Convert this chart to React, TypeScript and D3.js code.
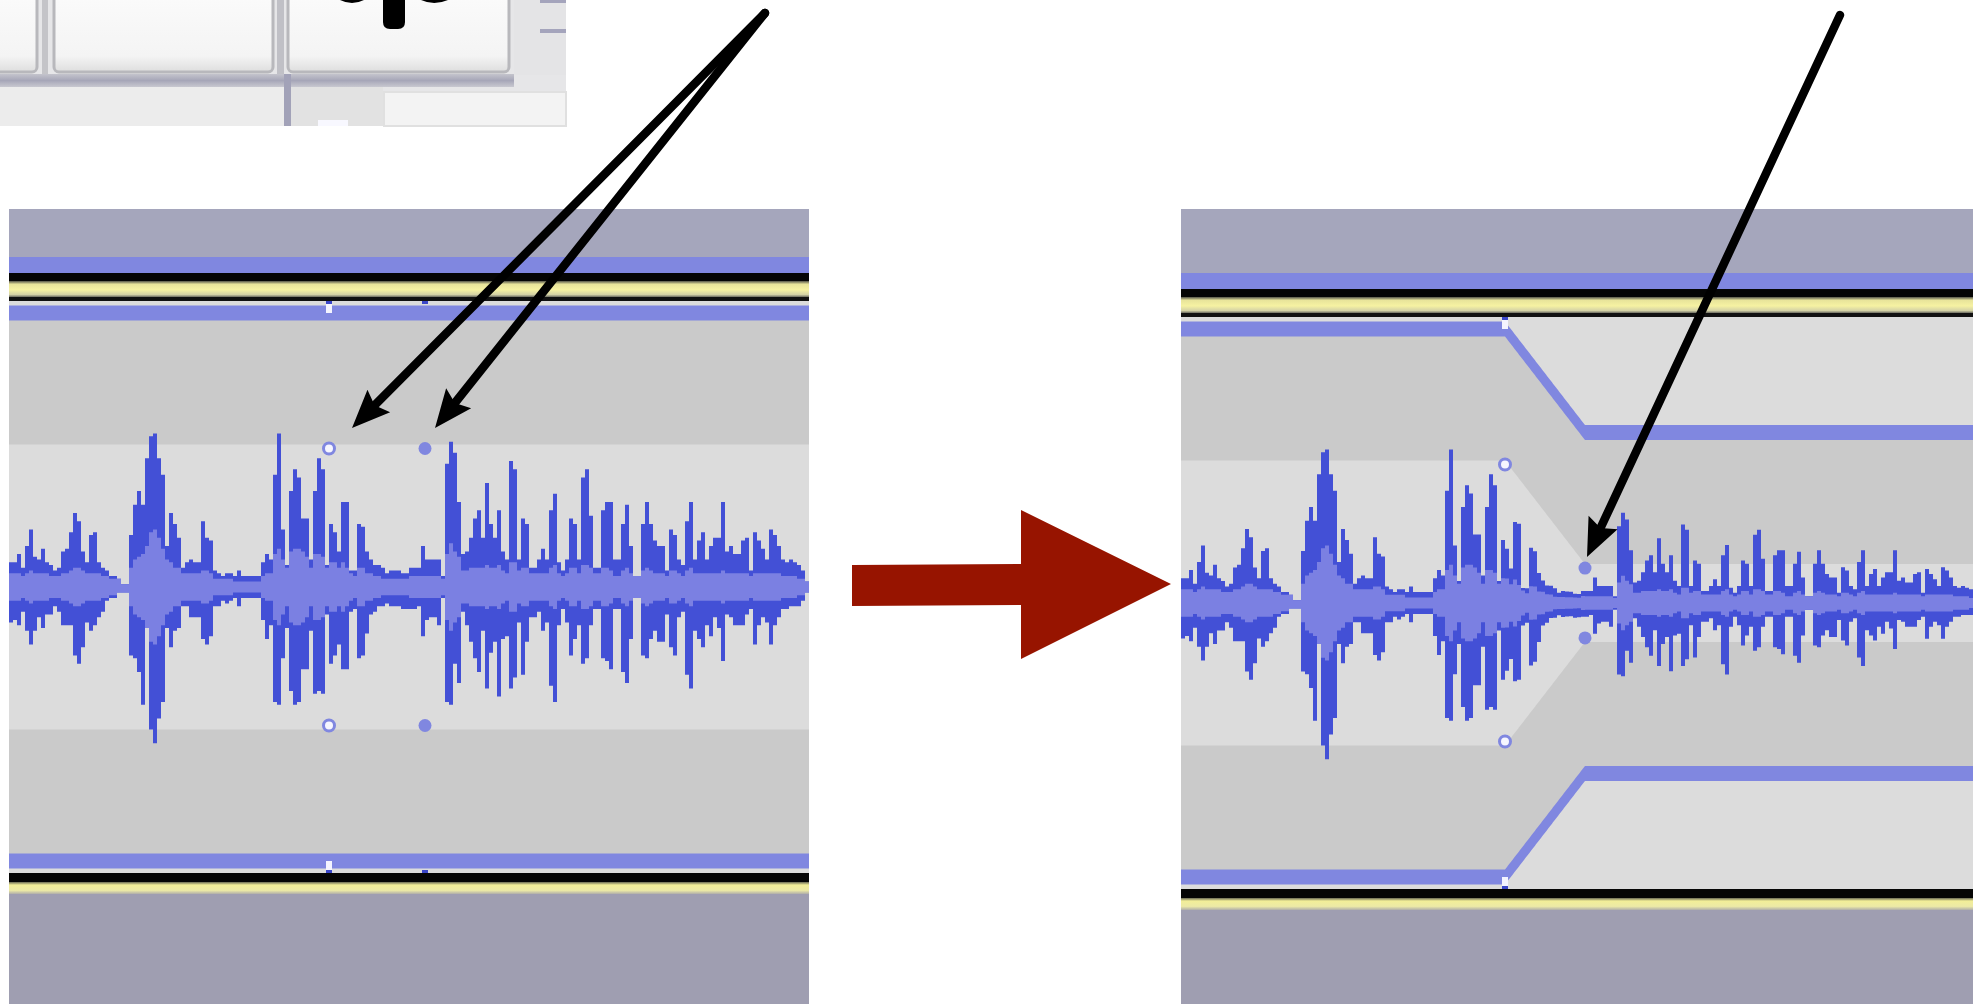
import React from 'react';
import * as d3 from 'd3';

const W = 1973;
const H = 1004;

// Waveform peaks per display column, in % of full scale (positive peak)
const waveMax = [
  9, 9, 12, 7, 15, 21, 11, 10, 14, 9, 8, 6, 7, 13, 14, 20, 27, 24, 13, 9,
  19, 20, 9, 7, 6, 4, 4, 3, 1, 1, 19, 30, 35, 30, 47, 55, 56, 47, 41, 15,
  27, 23, 18, 7, 9, 10, 9, 9, 24, 18,
  17, 6, 5, 4, 5, 5, 4, 6, 4, 4, 4, 4, 4, 9, 12, 10, 41, 56, 21, 8,
  35, 43, 40, 25, 25, 10, 35, 47, 43, 8, 23, 20, 13, 31, 31, 6, 6, 23, 22, 13,
  10, 8, 8, 7, 5, 6, 6, 6, 5, 5,
  7, 7, 7, 15, 10, 10, 10, 10, 4, 45, 53, 49, 31, 12, 13, 18, 25, 28, 18, 38,
  23, 18, 28, 13, 10, 46, 43, 10, 25, 23, 7, 7, 10, 14, 10, 28, 34, 9, 6, 10,
  25, 23, 10, 40, 43, 26, 7, 7, 28, 31,
  31, 10, 10, 23, 30, 15, 4, 4, 23, 31, 23, 17, 15, 15, 6, 21, 19, 10, 8, 24,
  31, 10, 17, 20, 10, 15, 18, 18, 31, 13, 15, 12, 12, 17, 18, 6, 20, 17, 14, 10,
  21, 19, 15, 10, 9, 10, 9, 8, 6, 2,
];

// Negative peak magnitude per column, in % of full scale
const waveMin = [
  13, 12, 14, 9, 16, 21, 16, 11, 15, 10, 10, 7, 9, 14, 14, 14, 25, 28, 22, 13,
  16, 14, 11, 9, 5, 4, 4, 2, 2, 2, 25, 26, 31, 43, 15, 52, 57, 48, 42, 15,
  22, 16, 15, 7, 7, 11, 11, 11, 19, 21,
  18, 7, 7, 5, 6, 5, 4, 7, 4, 4, 4, 4, 4, 12, 19, 14, 42, 43, 26, 15,
  38, 43, 42, 30, 30, 16, 39, 38, 39, 10, 28, 25, 21, 30, 30, 9, 8, 26, 25, 17,
  10, 9, 7, 7, 6, 7, 7, 7, 8, 8,
  8, 8, 7, 18, 12, 11, 11, 14, 4, 42, 43, 28, 35, 9, 14, 20, 26, 31, 16, 37,
  24, 20, 40, 19, 18, 37, 33, 13, 32, 20, 11, 11, 9, 16, 13, 36, 42, 14, 8, 13,
  25, 19, 14, 28, 26, 14, 8, 8, 26, 27,
  30, 8, 8, 31, 35, 19, 4, 4, 25, 26, 19, 16, 20, 20, 10, 22, 25, 11, 9, 32,
  37, 16, 19, 22, 14, 18, 11, 15, 27, 10, 11, 14, 14, 14, 10, 8, 21, 14, 11, 13,
  21, 14, 11, 8, 8, 7, 7, 7, 5, 2,
];

// RMS level per column, in % of full scale
const waveRms = [
  5, 5, 5, 4, 5, 6, 5, 5, 5, 5, 4, 4, 4, 5, 5, 6, 7, 7, 6, 5,
  5, 5, 5, 4, 4, 3, 3, 3, 2, 2, 7, 10, 11, 12, 15, 20, 21, 18, 14, 10,
  9, 7, 7, 5, 5, 5, 5, 5, 6, 6,
  5, 3, 3, 3, 3, 3, 2, 2, 2, 2, 2, 2, 2, 4, 5, 5, 12, 14, 10, 7,
  13, 14, 14, 13, 11, 7, 12, 12, 11, 7, 9, 9, 7, 9, 7, 5, 4, 7, 7, 5,
  5, 4, 4, 3, 3, 3, 3, 3, 3, 3,
  4, 4, 4, 4, 4, 4, 4, 4, 3, 12, 16, 13, 11, 6, 6, 7, 7, 7, 7, 8,
  7, 7, 8, 6, 5, 9, 9, 6, 7, 7, 5, 5, 5, 5, 5, 7, 8, 5, 4, 5,
  7, 7, 5, 8, 8, 7, 5, 5, 7, 7,
  6, 4, 4, 6, 7, 5, 4, 4, 6, 7, 6, 5, 5, 5, 4, 6, 6, 5, 4, 6,
  7, 5, 5, 5, 5, 5, 5, 5, 6, 5, 5, 5, 5, 5, 5, 4, 5, 5, 5, 5,
  5, 5, 5, 4, 4, 4, 4, 3, 3, 2,
];

// Envelope control points (time in display columns, gain)
const envBeforeTimes = [0, 80, 104, 200];
const envBeforeGains = [1, 1, 1, 1];
const envAfterTimes = [0, 81, 101, 200];
const envAfterGains = [1, 1, 0.622, 0.622];
// handles: [time, filled?]
const handlesBefore: [number, boolean][] = [[80, false], [104, true]];
const handlesAfter: [number, boolean][] = [[81, false], [101, true]];

const COLS = waveMax.length;
const INNER_OFFSET = 48; // % between envelope line and inner light band edge

const C = {
  waveDark: '#4350d6',
  waveRms: '#7b80e2',
  env: '#8087e0',
  gray: '#cacaca',
  light: '#dcdcdc',
  headTop: '#a5a6bc',
  headBottom: '#9f9eb1',
  red: '#971400',
};

type PanelProps = {
  id: string;
  x0: number;
  trackTop: number;
  times: number[];
  gains: number[];
  handles: [number, boolean][];
};

function Panel({ id, x0, trackTop, times, gains, handles }: PanelProps) {
  const width = COLS * 4;
  const half = 286;
  const center = trackTop + half;
  const trackBottom = trackTop + 2 * half;
  const xs = d3.scaleLinear().domain([0, COLS]).range([x0, x0 + width]);
  const ys = d3.scaleLinear().domain([-100, 100]).range([center + 274, center - 274]);
  const gain = d3.scaleLinear().domain(times).range(gains).clamp(true);
  const samples = d3.range(0, COLS + 0.001, 0.25);

  const topGray = d3
    .area<number>()
    .x((t) => xs(t))
    .y0((t) => ys(gain(t) * 100))
    .y1((t) => ys(gain(t) * 100 - INNER_OFFSET))(samples);
  const botGray = d3
    .area<number>()
    .x((t) => xs(t))
    .y0((t) => ys(-gain(t) * 100))
    .y1((t) => ys(-(gain(t) * 100 - INNER_OFFSET)))(samples);
  const envTop = d3
    .area<number>()
    .x((t) => xs(t))
    .y0((t) => ys(gain(t) * 100) - 7.5)
    .y1((t) => ys(gain(t) * 100) + 7.5)(samples);
  const envBot = d3
    .area<number>()
    .x((t) => xs(t))
    .y0((t) => ys(-gain(t) * 100) - 7.5)
    .y1((t) => ys(-gain(t) * 100) + 7.5)(samples);

  const idx = d3.range(COLS + 1);
  const ci = (i: number) => Math.min(i, COLS - 1);
  const g = (i: number) => gain(ci(i) + 0.5);
  const peakArea = d3
    .area<number>()
    .x((i) => xs(i))
    .y0((i) => ys(-waveMin[ci(i)] * g(i)))
    .y1((i) => ys(waveMax[ci(i)] * g(i)))
    .curve(d3.curveStepAfter)(idx);
  const rmsArea = d3
    .area<number>()
    .x((i) => xs(i))
    .y0((i) => ys(-Math.min(waveRms[ci(i)], waveMin[ci(i)]) * g(i)))
    .y1((i) => ys(Math.min(waveRms[ci(i)], waveMax[ci(i)]) * g(i)))
    .curve(d3.curveStepAfter)(idx);

  const yGrad = `${id}-yg`;
  const yGrad2 = `${id}-yg2`;
  return (
    <g>
      <defs>
        <clipPath id={`${id}-clip`}>
          <rect x={x0} y={209} width={width} height={H - 209} />
        </clipPath>
        <linearGradient id={yGrad} x1="0" x2="0" y1="0" y2="1">
          <stop offset="0" stopColor="#55554a" />
          <stop offset="0.2" stopColor="#e8e49a" />
          <stop offset="0.55" stopColor="#f6f2a2" />
          <stop offset="0.85" stopColor="#d4d2a6" />
          <stop offset="1" stopColor="#6a6a60" />
        </linearGradient>
        <linearGradient id={yGrad2} x1="0" x2="0" y1="0" y2="1">
          <stop offset="0" stopColor="#6a6a55" />
          <stop offset="0.25" stopColor="#f2ee98" />
          <stop offset="0.7" stopColor="#ece9a6" />
          <stop offset="1" stopColor="#b0aeaa" />
        </linearGradient>
      </defs>
      <g clipPath={`url(#${id}-clip)`}>
        <rect x={x0} y={209} width={width} height={trackTop - 44 - 209} fill={C.headTop} />
        <rect x={x0} y={trackTop - 44} width={width} height={16} fill={C.env} />
        <rect x={x0} y={trackTop - 28} width={width} height={8} fill="#050505" />
        <rect x={x0} y={trackTop - 20} width={width} height={16} fill={`url(#${yGrad})`} />
        <rect x={x0} y={trackTop - 4} width={width} height={4} fill="#111" />
        <rect x={x0} y={trackTop} width={width} height={trackBottom - trackTop} fill={C.light} />
        <path d={topGray ?? ''} fill={C.gray} />
        <path d={botGray ?? ''} fill={C.gray} />
        <path d={envTop ?? ''} fill={C.env} />
        <path d={envBot ?? ''} fill={C.env} />
        <rect x={x0} y={trackBottom} width={width} height={9} fill="#050505" />
        <rect x={x0} y={trackBottom + 9} width={width} height={12} fill={`url(#${yGrad2})`} />
        <rect x={x0} y={trackBottom + 21} width={width} height={H - trackBottom - 21} fill={C.headBottom} />
        <path d={peakArea ?? ''} fill={C.waveDark} />
        <path d={rmsArea ?? ''} fill={C.waveRms} />
        {handles.map(([t, filled], k) => {
          const gv = gain(t);
          const hx = xs(t);
          const inner = gv * 100 - INNER_OFFSET;
          const yTopInner = ys(inner) + 4;
          const yBotInner = ys(-inner) - 4;
          const showEdge = gv >= 0.999;
          return (
            <g key={k}>
              {showEdge && (
                <g>
                  <rect x={hx - 3} y={trackTop} width={6} height={3} fill="#3a46c8" />
                  {!filled && <rect x={hx - 3} y={trackTop + 3} width={6} height={ys(100) - trackTop - 3} fill="#f4f4ff" />}
                  {!filled && <rect x={hx - 3} y={ys(-100)} width={6} height={trackBottom - ys(-100) - 3} fill="#f4f4ff" />}
                  <rect x={hx - 3} y={trackBottom - 3} width={6} height={3} fill="#3a46c8" />
                </g>
              )}
              {[yTopInner, yBotInner].map((cy, j) =>
                filled ? (
                  <circle key={j} cx={hx} cy={cy} r={6.5} fill={C.env} />
                ) : (
                  <circle key={j} cx={hx} cy={cy} r={5.5} fill="#f6f6ff" stroke={C.env} strokeWidth={3} />
                ),
              )}
            </g>
          );
        })}
      </g>
    </g>
  );
}

function Arrow({ x1, y1, x2, y2 }: { x1: number; y1: number; x2: number; y2: number }) {
  const ang = Math.atan2(y2 - y1, x2 - x1);
  const len = 38;
  const hw = 16;
  const bx = x2 - len * Math.cos(ang);
  const by = y2 - len * Math.sin(ang);
  const px = -Math.sin(ang);
  const py = Math.cos(ang);
  const pts: [number, number][] = [
    [x2, y2],
    [bx + hw * px, by + hw * py],
    [bx + 6 * Math.cos(ang), by + 6 * Math.sin(ang)],
    [bx - hw * px, by - hw * py],
  ];
  const line = d3.line();
  return (
    <g>
      <line x1={x1} y1={y1} x2={bx + 8 * Math.cos(ang)} y2={by + 8 * Math.sin(ang)} stroke="#000" strokeWidth={8.5} strokeLinecap="round" />
      <path d={(line(pts) ?? '') + 'Z'} fill="#000" />
    </g>
  );
}

function Toolbar() {
  return (
    <g>
      <defs>
        <linearGradient id="btnG" x1="0" x2="0" y1="0" y2="1">
          <stop offset="0" stopColor="#fbfbfb" />
          <stop offset="0.8" stopColor="#f4f4f4" />
          <stop offset="1" stopColor="#dedede" />
        </linearGradient>
        <linearGradient id="barG" x1="0" x2="0" y1="0" y2="1">
          <stop offset="0" stopColor="#c4c4cc" />
          <stop offset="0.5" stopColor="#a6a6b8" />
          <stop offset="1" stopColor="#c8c8d0" />
        </linearGradient>
      </defs>
      <rect x={0} y={0} width={566} height={126} fill="#e6e6e8" />
      <rect x={42} y={0} width={6} height={75} fill="#c4c4c8" />
      <rect x={277} y={0} width={7} height={75} fill="#c0c0c6" />
      <rect x={-8} y={-8} width={45} height={80} rx={5} fill="url(#btnG)" stroke="#b8b8bc" strokeWidth={3} />
      <rect x={54} y={-8} width={219} height={80} rx={5} fill="url(#btnG)" stroke="#b8b8bc" strokeWidth={3} />
      <rect x={288} y={-8} width={221} height={80} rx={5} fill="url(#btnG)" stroke="#b8b8bc" strokeWidth={3} />
      <rect x={514} y={0} width={52} height={75} fill="#e4e4e6" />
      <rect x={540} y={0} width={26} height={3} fill="#a4a4bc" />
      <rect x={540} y={29} width={26} height={4} fill="#a4a4bc" />
      <path d="M340,0 Q352,6 364,0 Z" fill="#000" />
      <path d="M421,0 Q434,6 448,0 Z" fill="#000" />
      <path d="M383,0 L405,0 L405,22 Q405,29 398,29 L390,29 Q383,29 383,22 Z" fill="#000" />
      <rect x={0} y={74} width={514} height={13} fill="url(#barG)" />
      <rect x={0} y={87} width={284} height={39} fill="#ececec" />
      <rect x={284} y={74} width={7} height={52} fill="#a2a2b8" />
      <rect x={291} y={87} width={92} height={39} fill="#e2e2e2" />
      <rect x={318} y={120} width={30} height={6} fill="#f8f8ff" />
      <rect x={384} y={92} width={182} height={34} fill="#f3f3f3" stroke="#e0e0e0" strokeWidth={2} />
    </g>
  );
}

function RedArrow() {
  const pts: [number, number][] = [
    [852, 565],
    [1021, 564],
    [1021, 510],
    [1171, 584],
    [1021, 659],
    [1021, 605],
    [852, 606],
  ];
  const line = d3.line();
  return <path d={(line(pts) ?? '') + 'Z'} fill={C.red} />;
}

export default function App() {
  return (
    <svg
      width={W}
      height={H}
      viewBox={`0 0 ${W} ${H}`}
      style={{ position: 'fixed', left: 0, top: 0, display: 'block', background: '#fff' }}
    >
      <rect x={0} y={0} width={W} height={H} fill="#fff" />
      <Toolbar />
      <Panel id="before" x0={9} trackTop={301} times={envBeforeTimes} gains={envBeforeGains} handles={handlesBefore} />
      <Panel id="after" x0={1181} trackTop={317} times={envAfterTimes} gains={envAfterGains} handles={handlesAfter} />
      <RedArrow />
      <Arrow x1={765} y1={13} x2={352} y2={428} />
      <Arrow x1={765} y1={13} x2={435} y2={428} />
      <Arrow x1={1840} y1={15} x2={1587} y2={557} />
    </svg>
  );
}
